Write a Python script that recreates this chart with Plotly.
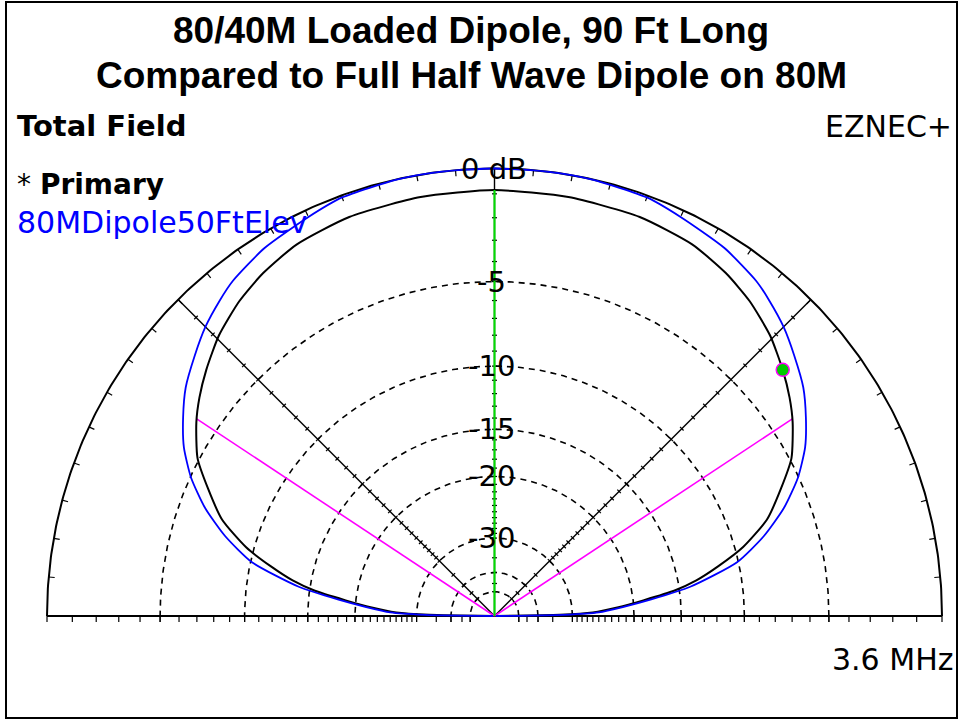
import numpy as np
import plotly.graph_objects as go

# ---------------- data ----------------
# Elevation pattern, 0..90 deg (pattern is symmetric about 90 deg)
primary_elev = [0, 1, 2, 4, 6, 8, 10, 12.5, 15.5, 19.5, 24, 28, 33, 36.5, 40.5,
                45.5, 51, 56, 62, 70, 80, 90]
primary_db = [-99, -33, -26, -22, -18.8, -15.5, -13.4, -11.5, -9.45, -7.5, -6.1,
              -4.9, -3.95, -3.4, -2.85, -2.22, -1.7, -1.35, -1.05, -0.9, -0.87, -0.85]

compare_elev = [0, 1, 2, 4, 6, 8.5, 12.5, 16.5, 20.5, 24.5, 28.5, 32.5, 36.5, 41,
                45, 49, 52, 58, 65, 70, 77.5, 83, 90]
compare_db = [-99, -32, -25, -21.4, -18, -14, -10.1, -8.0, -6.35, -5.05, -4.05, -3.3,
              -2.62, -2.05, -1.55, -1.15, -0.88, -0.53, -0.28, -0.08, -0.01, 0, 0]

ring_db = [0, -5, -10, -15, -20, -30, -40, -50]
ring_labels = ["0 dB", "-5", "-10", "-15", "-20", "-30", "", ""]
axis_tick_db = list(range(-1, -31, -1)) + [-35, -40, -45, -50]
outer_tick_elev = list(range(0, 181, 5))
radial_line_elev = [45, 90, 135]
beamwidth_elev = [33.5, 146.5]
cursor_elev = 90
marker_elev = 40.5

title_lines = ["80/40M Loaded Dipole, 90 Ft Long",
               "Compared to Full Half Wave Dipole on 80M"]
primary_name = "Primary"
compare_name = "80MDipole50FtElev"
plot_type = "Total Field"
program = "EZNEC+"
frequency = "3.6 MHz"

# ---------------- helpers ----------------
R_PX = 447.5            # pixels per unit radius
CX, CY = 494.5, 616.0   # pattern centre in pixels
W, H = 960, 721


def arrl(db):
    """ARRL log scale: each -2 dB shrinks radius by 0.89."""
    return 0.89 ** (-np.asarray(db, dtype=float) / 2.0)


def mirror(elev, db):
    e = list(elev) + [180 - v for v in reversed(elev[:-1])]
    d = list(db) + list(reversed(db[:-1]))
    return np.array(e, float), np.array(d, float)


def to_xy(elev, r):
    a = np.radians(elev)
    return r * np.cos(a), r * np.sin(a)


px = 1.0 / R_PX
fig = go.Figure()

# dashed rings
circ = np.linspace(0, 180, 361)
for db in ring_db[1:]:
    x, y = to_xy(circ, arrl(db))
    fig.add_trace(go.Scatter(x=x, y=y, mode="lines",
                             line=dict(color="black", width=1.6, dash="6px,5px"),
                             hoverinfo="skip", showlegend=False))
# outer ring (0 dB)
x, y = to_xy(circ, arrl(ring_db[0]))
fig.add_trace(go.Scatter(x=x, y=y, mode="lines", line=dict(color="black", width=2),
                         hoverinfo="skip", showlegend=False))

# baseline
rmax = float(arrl(0))
fig.add_trace(go.Scatter(x=[-rmax, rmax], y=[0, 0], mode="lines",
                         line=dict(color="black", width=2.2),
                         hoverinfo="skip", showlegend=False))

# ticks
tx, ty = [], []
for db in axis_tick_db + ring_db:
    r = float(arrl(db))
    for s in (-1, 1):
        tx += [s * r, s * r, None]
        ty += [0, -6 * px, None]
for db in axis_tick_db:
    r = float(arrl(db))
    for el in radial_line_elev:
        a = np.radians(el)
        x0, y0 = r * np.cos(a), r * np.sin(a)
        nx, ny = -np.sin(a), np.cos(a)
        tx += [x0 - 2.5 * px * nx, x0 + 2.5 * px * nx, None]
        ty += [y0 - 2.5 * px * ny, y0 + 2.5 * px * ny, None]
for el in outer_tick_elev:
    a = np.radians(el)
    tx += [rmax * np.cos(a), (rmax - 6 * px) * np.cos(a), None]
    ty += [rmax * np.sin(a), (rmax - 6 * px) * np.sin(a), None]
fig.add_trace(go.Scatter(x=tx, y=ty, mode="lines", line=dict(color="black", width=1.2),
                         hoverinfo="skip", showlegend=False))

# radial lines (45, 90, 135 deg)
for el in radial_line_elev:
    x, y = to_xy(np.array([el, el]), np.array([0, rmax]))
    fig.add_trace(go.Scatter(x=x, y=y, mode="lines", line=dict(color="black", width=1.4),
                             hoverinfo="skip", showlegend=False))

pe, pd_ = mirror(primary_elev, primary_db)
ce, cd = mirror(compare_elev, compare_db)

# beamwidth (-3 dB) lines
for el in beamwidth_elev:
    r = float(arrl(np.interp(el, pe, pd_)))
    x, y = to_xy(np.array([el, el]), np.array([0, r]))
    fig.add_trace(go.Scatter(x=x, y=y, mode="lines", line=dict(color="#ff00ff", width=1.6),
                             hoverinfo="skip", showlegend=False))

# primary pattern (black)
x, y = to_xy(pe, arrl(pd_))
fig.add_trace(go.Scatter(x=x, y=y, mode="lines",
                         line=dict(color="black", width=2, shape="spline", smoothing=0.6),
                         name=primary_name, hoverinfo="skip", showlegend=False))
# comparison pattern (blue)
x, y = to_xy(ce, arrl(cd))
fig.add_trace(go.Scatter(x=x, y=y, mode="lines",
                         line=dict(color="#0000ff", width=1.8, shape="spline", smoothing=0.6),
                         name=compare_name, hoverinfo="skip", showlegend=False))

# cursor line (green)
r = float(arrl(np.interp(cursor_elev, pe, pd_)))
x, y = to_xy(np.array([cursor_elev, cursor_elev]), np.array([0, r]))
fig.add_trace(go.Scatter(x=x, y=y, mode="lines", line=dict(color="#00dd00", width=2),
                         hoverinfo="skip", showlegend=False))

# marker dot
r = float(arrl(np.interp(marker_elev, pe, pd_)))
x, y = to_xy(np.array([marker_elev]), np.array([r]))
fig.add_trace(go.Scatter(x=x, y=y, mode="markers",
                         marker=dict(size=13, color="#00cc00", line=dict(color="#ff00ff", width=1.5)),
                         hoverinfo="skip", showlegend=False))

# ring labels
ann = []
for db, lab in zip(ring_db, ring_labels):
    if not lab:
        continue
    ann.append(dict(x=0, y=float(arrl(db)), xref="x", yref="y", text=lab, showarrow=False,
                    xanchor="center", yanchor="middle", xshift=-3 if db != 0 else -1,
                    font=dict(family="DejaVu Sans", size=29, color="black")))


def pp(xp, yp):
    return xp / W, 1 - yp / H


for i, t in enumerate(title_lines):
    xx, yy = pp(471, 31 + 45 * i)
    ann.append(dict(x=xx, y=yy, xref="paper", yref="paper", text="<b>%s</b>" % t,
                    showarrow=False, xanchor="center", yanchor="middle",
                    font=dict(family="Liberation Sans, Arial", size=37, color="black")))

xx, yy = pp(15, 126)
ann.append(dict(x=xx, y=yy, xref="paper", yref="paper", text="<b>%s</b>" % plot_type,
                showarrow=False, xanchor="left", yanchor="middle",
                font=dict(family="DejaVu Sans", size=29, color="black")))
xx, yy = pp(15, 184)
ann.append(dict(x=xx, y=yy, xref="paper", yref="paper", text="* <b>%s</b>" % primary_name,
                showarrow=False, xanchor="left", yanchor="middle",
                font=dict(family="DejaVu Sans", size=28, color="black")))
xx, yy = pp(15, 223)
ann.append(dict(x=xx, y=yy, xref="paper", yref="paper", text=compare_name,
                showarrow=False, xanchor="left", yanchor="middle",
                font=dict(family="DejaVu Sans", size=30, color="#0000ff")))
xx, yy = pp(954, 126)
ann.append(dict(x=xx, y=yy, xref="paper", yref="paper", text=program,
                showarrow=False, xanchor="right", yanchor="middle",
                font=dict(family="DejaVu Sans", size=30, color="black")))
xx, yy = pp(955, 659)
ann.append(dict(x=xx, y=yy, xref="paper", yref="paper", text=frequency,
                showarrow=False, xanchor="right", yanchor="middle",
                font=dict(family="DejaVu Sans", size=30, color="black")))

fig.update_layout(
    width=W, height=H, autosize=False,
    margin=dict(l=0, r=0, t=0, b=0, pad=0),
    paper_bgcolor="white", plot_bgcolor="white",
    xaxis=dict(range=[-CX / R_PX, (W - CX) / R_PX], visible=False, fixedrange=True),
    yaxis=dict(range=[-(H - CY) / R_PX, CY / R_PX], visible=False, fixedrange=True),
    annotations=ann,
    shapes=[dict(type="rect", xref="paper", yref="paper",
                 x0=6 / W, x1=957 / W, y0=1 - 718 / H, y1=1 - 2 / H,
                 line=dict(color="black", width=2))],
    showlegend=False,
)

fig.write_html("out.html", config={"displayModeBar": False},
               post_script="document.body.style.margin='0px';document.body.style.overflow='hidden';")
